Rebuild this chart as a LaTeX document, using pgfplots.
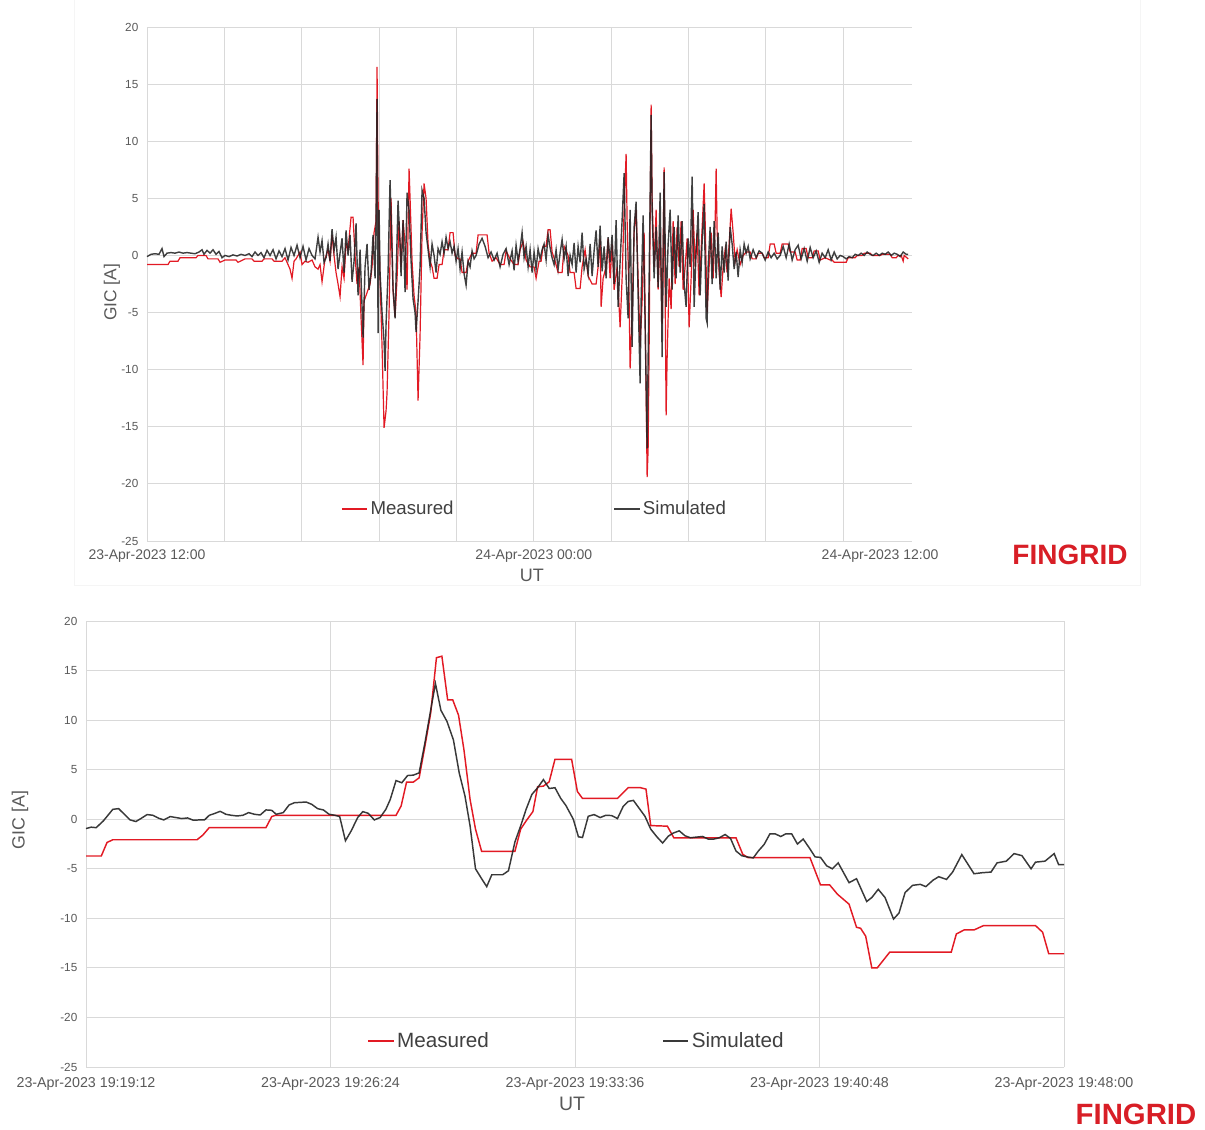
\documentclass[border=0pt]{standalone}
\usepackage{pgfplots}
\pgfplotsset{compat=1.18}
\usepackage{fontspec}
\setmainfont{Liberation Sans}
\definecolor{meas}{RGB}{226,26,36}
\definecolor{simc}{RGB}{36,36,36}
\definecolor{gridc}{RGB}{217,217,217}
\definecolor{txt}{RGB}{89,89,89}
\definecolor{legt}{RGB}{64,64,64}
\definecolor{fing}{RGB}{216,30,38}
\pgfplotsset{
  gic/.style={
    scale only axis,
    axis line style={draw=none},
    major tick length=0pt,
    grid=major,
    major grid style={gridc, line width=0.75pt},
    ymin=-25, ymax=20, ytick={-25,-20,...,20},
    yticklabels={-25,-20,-15,-10,-5,0,5,10,15,20},
    yticklabel style={font=\fontsize{8.8pt}{10pt}\selectfont, text=txt, xshift=-3pt},
    xticklabel style={text=txt},
    legend cell align=left,
    legend image code/.code={\draw[##1, line width=1.1pt] (0pt,0pt) -- (19pt,0pt);},
    clip=false,
  }
}
\begin{document}
\begin{tikzpicture}
\path[use as bounding box] (0pt,0pt) rectangle (903.75pt,-846.75pt);
\draw[gray!8, line width=0.75pt] (55.5pt,0pt) -- (55.5pt,-438.75pt) -- (855pt,-438.75pt) -- (855pt,0pt);
% ---------------- top panel ----------------
\begin{axis}[gic,
  at={(110.25pt,-20.25pt)}, anchor=north west,
  width=573.75pt, height=385.5pt,
  xmin=0, xmax=23.73,
  xtick={0,2.4,4.8,7.2,9.6,12,14.4,16.8,19.2,21.6},
  xticklabels={23-Apr-2023 12:00,,,,,24-Apr-2023 00:00,,,,},
  extra x ticks={22.74}, extra x tick labels={24-Apr-2023 12:00},
  extra x tick style={grid=none},
  xticklabel style={font=\fontsize{10.5pt}{12pt}\selectfont, yshift=-3pt},
  xlabel={UT}, xlabel style={at={(rel axis cs:0.503,-0.066)}, anchor=center, font=\fontsize{13.5pt}{15pt}\selectfont, text=txt},
  ylabel={GIC [A]}, ylabel style={at={(rel axis cs:-0.046,0.484)}, anchor=center, font=\fontsize{13pt}{15pt}\selectfont, text=txt},
  legend columns=2,
  legend style={draw=none, fill=none, at={(rel axis cs:0.507,0.062)}, anchor=center,
    font=\fontsize{14pt}{16pt}\selectfont, text=legt, inner sep=0pt,
    /tikz/every even column/.append style={column sep=118pt}},
]
\addplot[meas, line width=0.9pt] table[row sep=\\, x expr=(\thisrowno{0}-147)/32.23, y index=1] {
px v\\
147 -0.8\\ 168 -0.8\\ 170 -0.5\\ 178 -0.5\\ 180 -0.2\\ 196 -0.2\\ 198 0.0\\ 206 0.0\\ 208 -0.3\\ 218 -0.3\\
220 -0.6\\ 225 -0.4\\ 236 -0.4\\ 238 -0.6\\ 245 -0.3\\ 252 -0.3\\ 254 -0.5\\ 262 -0.5\\ 264 -0.3\\ 272 -0.3\\
274 -0.5\\ 282 -0.5\\ 285 -0.2\\ 288 -0.8\\ 290 -1.2\\ 292 -2.0\\ 294 -0.5\\ 296 -0.3\\ 300 0.3\\ 302 -0.8\\
305 -0.5\\ 308 -0.6\\ 312 -0.4\\ 315 -1.0\\ 318 -1.2\\ 320 -0.8\\ 322 -2.3\\ 325 -0.3\\ 328 0.5\\ 330 -0.5\\
332 1.8\\ 334 0.0\\ 336 -1.5\\ 338 -2.5\\ 340 -3.6\\ 342 -1.0\\ 344 -2.0\\ 346 1.0\\ 348 0.5\\ 351 3.35\\
353 3.35\\ 355 0.0\\ 357 -2.5\\ 359 -1.0\\ 361 -5.5\\ 363 -9.6\\ 364 -4.0\\ 366 -3.5\\ 368 -3.0\\ 370 -2.5\\
372 -1.0\\ 374 2.0\\ 376 3.0\\ 377 16.5\\ 378 5.0\\ 380 -2.0\\ 382 -8.0\\ 384 -15.1\\ 386 -13.6\\ 387 -12.0\\
389 -5.0\\ 391 5.0\\ 393 -3.0\\ 395 -5.4\\ 397 -2.0\\ 399 3.0\\ 401 -1.0\\ 403 3.1\\ 405 1.0\\ 407 -3.0\\
409 7.6\\ 410 5.0\\ 412 -0.5\\ 414 -3.5\\ 416 -5.0\\ 418 -12.7\\ 420 -7.0\\ 422 2.0\\ 424 6.3\\ 426 5.0\\
428 1.0\\ 430 -0.5\\ 432 -1.0\\ 434 -2.0\\ 437 -2.0\\ 439 -0.8\\ 442 -0.8\\ 444 0.5\\ 448 0.5\\ 450 2.0\\
453 2.0\\ 455 0.0\\ 458 -0.3\\ 460 -0.3\\ 462 -1.5\\ 466 -1.5\\ 468 -0.5\\ 472 0.2\\ 476 0.2\\ 478 1.8\\
487 1.8\\ 489 0.2\\ 492 -0.5\\ 496 -0.2\\ 500 -0.8\\ 504 -0.8\\ 506 0.4\\ 510 -0.3\\ 514 -0.8\\ 518 -0.8\\
520 0.5\\ 523 1.2\\ 526 -0.4\\ 530 -1.0\\ 534 -1.0\\ 536 -2.0\\ 539 -0.5\\ 541 -0.5\\ 543 0.8\\ 546 0.8\\
548 2.25\\ 550 2.25\\ 552 0.3\\ 555 -0.5\\ 558 -1.5\\ 562 -1.5\\ 564 0.8\\ 568 0.0\\ 570 -1.5\\ 574 -1.5\\
576 -2.9\\ 580 -2.9\\ 582 -1.0\\ 585 0.5\\ 588 -1.8\\ 592 -2.5\\ 596 -2.5\\ 598 -1.0\\ 600 1.5\\ 601 -4.5\\
603 -2.0\\ 606 -1.0\\ 608 1.5\\ 610 -2.0\\ 612 1.0\\ 614 -3.0\\ 617 -1.0\\ 620 -6.3\\ 622 -2.0\\ 624 4.0\\
626 8.9\\ 627 3.0\\ 629 -4.0\\ 630 -9.9\\ 632 -5.0\\ 634 2.0\\ 636 4.0\\ 638 -2.0\\ 640 -8.0\\ 642 -4.0\\
644 2.0\\ 646 -12.0\\ 647 -19.4\\ 648 -17.0\\ 649 -8.0\\ 650 3.0\\ 651 13.2\\ 652 5.0\\ 654 -1.0\\ 656 4.0\\
658 -3.0\\ 660 2.0\\ 662 -6.0\\ 664 7.7\\ 666 -14.0\\ 667 -9.0\\ 669 -2.0\\ 671 -4.7\\ 673 3.0\\ 675 -2.5\\
677 2.5\\ 679 -1.0\\ 681 3.0\\ 683 -3.0\\ 685 -1.0\\ 687 1.5\\ 689 -6.3\\ 691 -2.0\\ 693 4.0\\ 695 -1.0\\
697 2.0\\ 699 -3.5\\ 701 0.5\\ 704 6.3\\ 705 3.0\\ 707 -5.0\\ 709 -1.0\\ 711 2.0\\ 713 -2.0\\ 715 3.0\\
716 7.6\\ 717 2.0\\ 719 -1.5\\ 721 -3.65\\ 723 -1.0\\ 725 0.5\\ 727 -1.5\\ 729 1.0\\ 731 4.1\\ 733 2.0\\
735 -0.5\\ 737 0.5\\ 740 -0.8\\ 743 0.0\\ 746 0.3\\ 750 0.3\\ 752 -0.3\\ 756 -0.3\\ 758 0.2\\ 762 0.2\\
764 -0.2\\ 768 -0.2\\ 770 1.0\\ 774 1.0\\ 776 0.2\\ 780 0.2\\ 782 1.0\\ 788 1.0\\ 790 0.3\\ 795 0.3\\
797 -0.4\\ 800 -0.4\\ 802 0.6\\ 806 0.6\\ 808 -0.2\\ 812 -0.2\\ 814 0.4\\ 818 0.4\\ 820 -0.4\\ 825 -0.2\\
830 -0.4\\ 832 -0.4\\ 834 -0.6\\ 846 -0.6\\ 848 -0.2\\ 855 -0.2\\ 857 0.0\\ 862 0.0\\ 864 0.2\\ 870 0.2\\
872 0.0\\ 880 0.0\\ 882 0.1\\ 890 0.1\\ 892 -0.2\\ 896 -0.2\\ 898 0.0\\ 901 0.0\\ 903 -0.5\\ 904 0.0\\ 908 -0.3\\
};
\addlegendentry{Measured}
\addplot[simc, line width=1.05pt, opacity=0.88] table[row sep=\\, x expr=(\thisrowno{0}-147)/32.23, y index=1] {
px v\\
147 -0.1\\ 151 0.1\\ 155 0.15\\ 159 0.1\\ 162 0.6\\ 164 -0.1\\ 167 0.2\\ 171 0.25\\ 175 0.2\\ 179 0.3\\
183 0.2\\ 187 0.25\\ 191 0.2\\ 195 0.15\\ 199 0.3\\ 202 0.5\\ 204 0.1\\ 207 0.45\\ 210 0.2\\ 213 0.5\\
216 0.1\\ 219 0.35\\ 222 -0.2\\ 225 0.0\\ 229 -0.1\\ 233 0.05\\ 237 -0.05\\ 241 0.1\\ 245 0.0\\ 249 0.15\\
252 -0.1\\ 255 0.3\\ 258 0.0\\ 261 0.25\\ 264 -0.2\\ 267 0.45\\ 270 0.0\\ 273 0.5\\ 276 -0.3\\ 279 0.4\\
282 -0.1\\ 285 0.6\\ 288 -0.4\\ 291 0.7\\ 294 0.0\\ 297 0.9\\ 300 -0.2\\ 303 0.8\\ 306 -0.4\\ 309 0.6\\
312 0.0\\ 315 -0.3\\ 318 1.6\\ 320 0.3\\ 322 1.3\\ 324 -0.6\\ 326 -0.2\\ 328 1.0\\ 330 -0.5\\ 332 2.3\\
334 0.4\\ 336 1.6\\ 338 -1.2\\ 340 0.2\\ 342 1.5\\ 344 -1.5\\ 346 2.2\\ 348 0.0\\ 350 1.8\\ 352 -2.3\\
354 -0.5\\ 356 2.8\\ 358 -3.5\\ 360 0.5\\ 362 -4.5\\ 363 -7.2\\ 365 -1.0\\ 367 1.0\\ 369 -3.0\\ 371 -1.5\\
373 1.8\\ 375 -2.0\\ 376 3.0\\ 377 13.7\\ 378 -6.8\\ 379 4.0\\ 380 -1.5\\ 382 -5.0\\ 384 -7.5\\ 385 -10.1\\
386 -6.0\\ 388 -1.5\\ 390 6.6\\ 391 3.5\\ 393 -3.0\\ 395 -5.5\\ 396 -2.0\\ 398 4.8\\ 400 1.0\\ 401 -1.8\\
403 3.1\\ 405 -3.2\\ 407 5.5\\ 409 4.0\\ 411 -0.5\\ 413 -3.8\\ 415 -5.0\\ 416 -6.7\\ 418 -4.0\\ 420 -1.0\\
422 5.7\\ 424 5.0\\ 426 2.0\\ 428 0.5\\ 430 -1.0\\ 432 1.0\\ 434 0.0\\ 436 -1.5\\ 438 0.6\\ 440 0.1\\
442 1.2\\ 444 0.2\\ 446 1.6\\ 448 0.6\\ 450 1.2\\ 452 0.2\\ 454 0.8\\ 456 -0.5\\ 458 0.6\\ 460 -1.2\\
462 0.3\\ 464 -1.6\\ 466 -2.6\\ 468 -0.5\\ 470 -1.0\\ 472 0.4\\ 474 -0.3\\ 476 0.0\\ 479 1.0\\ 482 1.5\\
485 0.8\\ 488 -0.2\\ 491 0.3\\ 494 -0.4\\ 497 0.2\\ 500 -1.0\\ 503 0.1\\ 506 0.6\\ 509 -0.8\\ 512 0.4\\
514 -1.3\\ 516 0.9\\ 518 -0.5\\ 520 0.6\\ 522 2.0\\ 524 -0.2\\ 526 0.8\\ 528 -1.0\\ 530 0.5\\ 532 -1.5\\
534 0.3\\ 536 -1.2\\ 538 0.6\\ 540 -0.3\\ 542 0.5\\ 544 1.0\\ 546 -0.4\\ 548 1.8\\ 550 0.7\\ 552 -0.2\\
554 -0.8\\ 556 0.5\\ 558 -1.2\\ 560 0.2\\ 562 1.4\\ 564 -0.3\\ 566 0.8\\ 568 -1.8\\ 570 0.0\\ 572 -0.8\\
574 1.1\\ 576 -1.5\\ 578 0.8\\ 580 -0.6\\ 582 2.0\\ 584 -1.2\\ 586 -0.3\\ 588 -1.6\\ 590 1.0\\ 592 -1.8\\
594 0.4\\ 596 2.2\\ 598 -1.0\\ 600 2.6\\ 602 -1.4\\ 604 0.8\\ 606 -2.0\\ 608 1.6\\ 610 -0.6\\ 612 1.8\\
614 -2.5\\ 616 3.1\\ 618 -4.5\\ 620 -0.5\\ 622 3.1\\ 624 7.2\\ 626 -2.0\\ 628 -5.5\\ 630 4.0\\ 632 -8.0\\
634 2.5\\ 636 4.7\\ 638 -3.5\\ 640 -11.2\\ 641 -4.0\\ 643 3.5\\ 645 -6.0\\ 647 -16.9\\ 648 -9.0\\ 650 5.0\\
651 12.3\\ 652 4.0\\ 654 -2.0\\ 656 2.5\\ 658 -2.8\\ 660 5.5\\ 662 -8.9\\ 664 7.3\\ 666 -4.5\\ 668 1.0\\
670 4.0\\ 672 -3.0\\ 674 2.5\\ 676 -2.0\\ 678 3.5\\ 680 -1.5\\ 682 3.0\\ 684 -2.5\\ 686 -4.5\\ 688 1.5\\
690 -1.0\\ 692 6.9\\ 694 -4.5\\ 696 0.5\\ 698 3.8\\ 700 -3.5\\ 702 1.2\\ 704 4.5\\ 706 -5.5\\ 707 -5.9\\
708 -1.0\\ 710 2.5\\ 712 -2.5\\ 714 3.0\\ 716 -2.0\\ 718 2.0\\ 720 -3.0\\ 722 0.8\\ 724 -1.5\\ 726 1.2\\
728 -2.2\\ 730 2.5\\ 732 1.0\\ 734 -1.2\\ 736 0.3\\ 738 -1.9\\ 740 0.5\\ 742 -0.6\\ 744 1.0\\ 746 0.2\\
748 0.8\\ 750 -0.3\\ 753 0.5\\ 756 -0.2\\ 759 0.4\\ 762 0.2\\ 765 -0.4\\ 768 0.3\\ 771 -0.2\\ 774 0.2\\
777 -0.3\\ 780 0.0\\ 783 0.8\\ 786 -0.2\\ 789 1.0\\ 792 -0.4\\ 795 0.5\\ 798 0.9\\ 801 -0.3\\ 804 0.6\\
807 -0.5\\ 810 0.7\\ 813 -0.2\\ 816 0.4\\ 819 -0.6\\ 822 0.2\\ 825 -0.2\\ 828 0.5\\ 831 -0.4\\ 834 0.3\\
837 -0.3\\ 840 0.0\\ 843 -0.1\\ 846 -0.3\\ 849 -0.1\\ 852 -0.2\\ 855 0.1\\ 858 0.0\\ 861 0.2\\ 864 0.0\\
867 0.3\\ 870 0.1\\ 873 0.0\\ 876 0.2\\ 879 0.0\\ 882 0.2\\ 885 0.1\\ 888 0.3\\ 891 0.0\\ 894 0.2\\
897 0.1\\ 900 -0.1\\ 903 0.3\\ 906 0.1\\ 908 0.1\\
};
\addlegendentry{Simulated}
\end{axis}
% ---------------- bottom panel ----------------
\begin{axis}[gic,
  at={(64.5pt,-465.75pt)}, anchor=north west,
  width=733.5pt, height=334.5pt,
  xmin=0, xmax=28.8,
  xtick={0,7.2,14.4,21.6,28.8},
  xticklabels={23-Apr-2023 19:19:12,23-Apr-2023 19:26:24,23-Apr-2023 19:33:36,23-Apr-2023 19:40:48,23-Apr-2023 19:48:00},
  xticklabel style={font=\fontsize{10.7pt}{12pt}\selectfont, yshift=-4pt},
  xlabel={UT}, xlabel style={at={(rel axis cs:0.497,-0.083)}, anchor=center, font=\fontsize{14.6pt}{16pt}\selectfont, text=txt},
  ylabel={GIC [A]}, ylabel style={at={(rel axis cs:-0.0675,0.554)}, anchor=center, font=\fontsize{13.3pt}{15pt}\selectfont, text=txt},
  legend columns=2,
  legend style={draw=none, fill=none, at={(rel axis cs:0.502,0.058)}, anchor=center,
    font=\fontsize{15.5pt}{17pt}\selectfont, text=legt, inner sep=0pt,
    /tikz/every even column/.append style={column sep=128pt}},
]
\addplot[meas, line width=1.1pt] coordinates {
(0,-3.71) (0.45,-3.71) (0.62,-2.34) (0.79,-2.07) (3.27,-2.07) (3.44,-1.6) (3.63,-0.84) (5.3,-0.84)
(5.47,0.27) (5.58,0.4) (9.13,0.4) (9.28,1.34) (9.44,3.75) (9.64,3.75) (9.81,4.18) (9.98,7.36)
(10.15,10.7) (10.32,16.3) (10.48,16.45) (10.65,12.04) (10.8,12.04) (10.97,10.5) (11.13,7.0) (11.31,2.0)
(11.47,-1.0) (11.65,-3.24) (12.63,-3.24) (12.8,-1.0) (12.96,-0.17) (13.16,0.77) (13.3,3.28) (13.47,3.34)
(13.64,3.78) (13.81,6.05) (14.3,6.05) (14.47,2.8) (14.62,2.1) (15.65,2.1) (15.97,3.2) (16.31,3.2)
(16.49,3.04) (16.63,-0.64) (17.12,-0.7) (17.31,-1.87) (19.14,-1.87) (19.34,-3.54) (19.5,-3.88) (21.32,-3.88)
(21.63,-6.63) (21.9,-6.63) (22.13,-7.57) (22.47,-8.57) (22.69,-10.9) (22.81,-11.0) (22.96,-11.8) (23.14,-15.0)
(23.3,-15.0) (23.67,-13.4) (25.48,-13.4) (25.63,-11.57) (25.86,-11.17) (26.15,-11.17) (26.43,-10.73) (27.96,-10.73)
(28.17,-11.4) (28.35,-13.57) (28.8,-13.57)
};
\addlegendentry{Measured}
\addplot[simc, line width=1.1pt, opacity=0.9] coordinates {
(0,-0.94) (0.15,-0.8) (0.3,-0.85) (0.51,-0.17) (0.79,1.0) (0.96,1.07) (1.13,0.5) (1.3,-0.07)
(1.47,-0.23) (1.63,0.1) (1.8,0.47) (1.97,0.4) (2.14,0.1) (2.29,-0.07) (2.48,0.27) (2.65,0.17)
(2.82,0.07) (2.99,0.13) (3.16,-0.1) (3.33,-0.07) (3.49,-0.07) (3.63,0.4) (3.78,0.57) (3.95,0.8)
(4.12,0.5) (4.28,0.4) (4.45,0.33) (4.62,0.4) (4.79,0.67) (4.96,0.5) (5.13,0.43) (5.3,0.94)
(5.47,0.9) (5.6,0.5) (5.81,0.67) (5.98,1.44) (6.14,1.67) (6.31,1.7) (6.48,1.74) (6.65,1.5)
(6.82,1.07) (6.99,0.94) (7.16,0.5) (7.33,0.4) (7.47,0.27) (7.64,-2.17) (7.81,-1.17) (8.0,0.17)
(8.15,0.77) (8.31,0.6) (8.49,-0.07) (8.66,0.17) (8.83,1.0) (8.96,2.0) (9.13,3.9) (9.3,3.68)
(9.47,4.41) (9.64,4.45) (9.81,4.68) (9.98,7.7) (10.15,11.0) (10.29,13.7) (10.45,11.0) (10.63,9.87)
(10.82,8.0) (10.99,4.68) (11.16,2.34) (11.31,-0.67) (11.47,-5.0) (11.65,-6.0) (11.8,-6.8) (11.95,-5.6)
(12.1,-5.6) (12.27,-5.6) (12.44,-5.2) (12.63,-2.3) (12.8,-0.67) (12.96,1.0) (13.13,2.5) (13.3,3.18)
(13.47,4.0) (13.64,3.1) (13.81,3.18) (13.98,2.1) (14.13,1.4) (14.35,0.0) (14.5,-1.77) (14.62,-1.84)
(14.79,0.3) (14.96,0.47) (15.14,0.17) (15.31,0.4) (15.48,0.37) (15.65,0.07) (15.82,1.3) (15.97,1.8)
(16.12,1.9) (16.29,1.1) (16.46,0.3) (16.63,-1.0) (16.81,-1.77) (16.98,-2.4) (17.15,-1.7) (17.29,-1.4)
(17.47,-1.17) (17.64,-1.67) (17.8,-1.87) (17.98,-1.8) (18.16,-1.74) (18.32,-2.0) (18.49,-2.0) (18.65,-1.87)
(18.82,-1.54) (18.98,-1.94) (19.14,-3.2) (19.31,-3.68) (19.47,-3.8) (19.65,-3.9) (19.8,-3.2) (19.97,-2.54)
(20.14,-1.47) (20.29,-1.47) (20.46,-1.74) (20.61,-1.47) (20.78,-1.47) (20.95,-2.5) (21.12,-2.0) (21.3,-2.9)
(21.47,-3.8) (21.63,-3.85) (21.81,-4.7) (21.98,-5.0) (22.15,-4.4) (22.47,-6.4) (22.69,-6.0) (22.99,-8.3)
(23.14,-7.9) (23.33,-7.07) (23.53,-7.9) (23.78,-10.07) (23.94,-9.47) (24.12,-7.4) (24.34,-6.67) (24.57,-6.57)
(24.73,-6.8) (24.95,-6.13) (25.11,-5.8) (25.34,-6.07) (25.52,-5.33) (25.79,-3.57) (26.15,-5.5) (26.38,-5.4)
(26.65,-5.33) (26.83,-4.4) (27.1,-4.23) (27.33,-3.47) (27.56,-3.67) (27.83,-5.0) (27.96,-4.33) (28.24,-4.23)
(28.51,-3.47) (28.64,-4.57) (28.8,-4.57)
};
\addlegendentry{Simulated}
\end{axis}
\node[text=fing, inner sep=0pt, font=\fontsize{21pt}{24pt}\selectfont\bfseries] at (802.5pt,-416.25pt) {FINGRID};
\node[text=fing, inner sep=0pt, font=\fontsize{22pt}{25pt}\selectfont\bfseries] at (852pt,-836pt) {FINGRID};
\end{tikzpicture}
\end{document}
